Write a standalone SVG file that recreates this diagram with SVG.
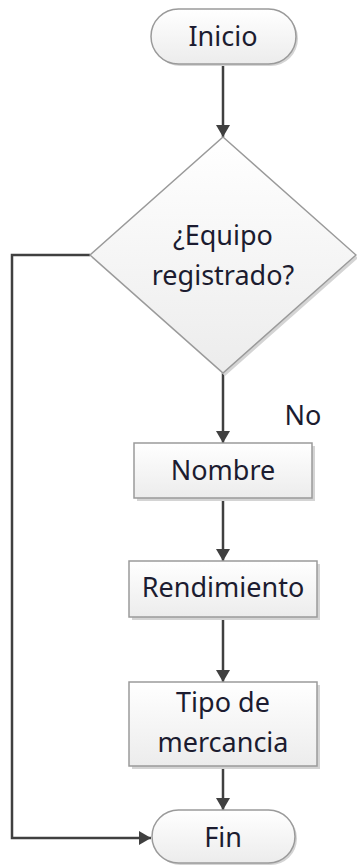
<svg xmlns="http://www.w3.org/2000/svg" width="357" height="866" viewBox="0 0 357 866">
<defs>
<linearGradient id="g" x1="0" y1="0" x2="0" y2="1">
<stop offset="0" stop-color="#ffffff"/>
<stop offset="1" stop-color="#ececec"/>
</linearGradient>
<marker id="ah" viewBox="0 0 12 14" refX="12" refY="7" markerWidth="12" markerHeight="14" markerUnits="userSpaceOnUse" orient="auto">
<path d="M0,0 L12,7 L0,14 Z" fill="#404040"/>
</marker>
<style>
.sh{fill:#d4d4d4;stroke:none}
.n{fill:url(#g);stroke:#9a9a9a;stroke-width:1.5}
.t{font-family:"Noto Sans","Open Sans",sans-serif;font-size:27px;fill:#1c1c30;text-anchor:middle}
.c{fill:none;stroke:#404040;stroke-width:2.5;marker-end:url(#ah)}
</style>
</defs>
<g id="connectors">
<path class="c" d="M223,64 V137"/>
<path class="c" d="M223,372 V443"/>
<path class="c" d="M223,499 V561"/>
<path class="c" d="M223,618 V682"/>
<path class="c" d="M223,766 V810"/>
<path class="c" d="M90,255 H12 V838 H151"/>
<text class="t" x="303" y="425">No</text>
</g>
<g id="inicio">
<rect class="sh" x="153" y="11" width="145" height="55" rx="27.5"/>
<rect class="n" x="151" y="9" width="145" height="55" rx="27.5"/>
<text class="t" x="223" y="46">Inicio</text>
</g>
<g id="decision">
<path class="sh" d="M225,140 L358,258 L225,376 L92,258 Z"/>
<path class="n" d="M223,137 L356,255 L223,373 L90,255 Z"/>
<text class="t" x="223" y="245">¿Equipo</text>
<text class="t" x="223" y="285">registrado?</text>
</g>
<g id="nombre">
<rect class="sh" x="137" y="446" width="178" height="55"/>
<rect class="n" x="134" y="443" width="178" height="55"/>
<text class="t" x="223" y="480">Nombre</text>
</g>
<g id="rendimiento">
<rect class="sh" x="132" y="564" width="188" height="56"/>
<rect class="n" x="129" y="561" width="188" height="56"/>
<text class="t" x="223" y="597">Rendimiento</text>
</g>
<g id="tipo">
<rect class="sh" x="132" y="685" width="188" height="84"/>
<rect class="n" x="129" y="682" width="188" height="84"/>
<text class="t" x="223" y="712">Tipo de</text>
<text class="t" x="223" y="752">mercancia</text>
</g>
<g id="fin">
<rect class="sh" x="154" y="812" width="143" height="53" rx="26.5"/>
<rect class="n" x="152" y="810" width="143" height="53" rx="26.5"/>
<text class="t" x="223" y="847">Fin</text>
</g>
</svg>
